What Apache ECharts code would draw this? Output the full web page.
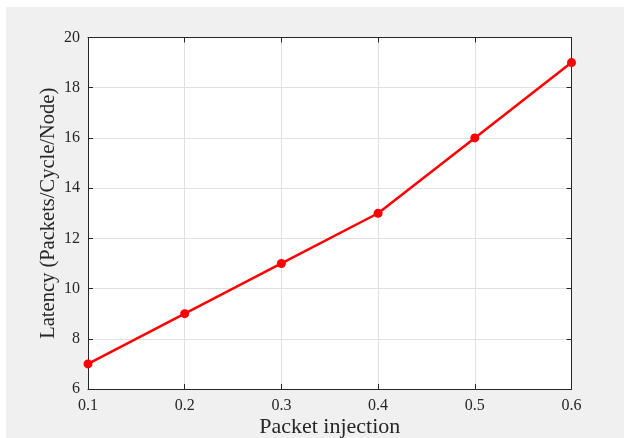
<!DOCTYPE html>
<html><head><meta charset="utf-8">
<script src="https://cdn.jsdelivr.net/npm/echarts@6/dist/echarts.min.js"></script>
<style>html,body{margin:0;padding:0;background:#fff}#c{width:624px;height:438px}</style>
</head><body><div id="c"></div>
<script>
var xValues = [0.1, 0.2, 0.3, 0.4, 0.5, 0.6];
var latency = [7, 9, 11, 13, 16, 19];
var xTicks = [0.1, 0.2, 0.3, 0.4, 0.5, 0.6];
var yTicks = [6, 8, 10, 12, 14, 16, 18, 20];

var font = 'Liberation Serif, Times New Roman, serif';
var chart = echarts.init(document.getElementById('c'));
var baseX = {
  type: 'value', min: 0.1, max: 0.6, interval: 0.1,
  axisLine: {show: true, onZero: false, lineStyle: {color: '#262626', width: 1}},
  axisTick: {show: true, inside: true, length: 5, lineStyle: {color: '#262626'}},
  splitLine: {show: false}
};
var baseY = {
  type: 'value', min: 6, max: 20, interval: 2,
  axisLine: {show: true, onZero: false, lineStyle: {color: '#262626', width: 1}},
  axisTick: {show: true, inside: true, length: 5, lineStyle: {color: '#262626'}},
  splitLine: {show: false}
};
chart.setOption({
  backgroundColor: '#ffffff',
  animation: false,
  graphic: [{type: 'rect', z: -100, silent: true, shape: {x: 6, y: 7, width: 618, height: 431}, style: {fill: '#f0f0f0'}}],
  grid: {left: 88, top: 37.5, width: 483.5, height: 351.5, show: true, backgroundColor: '#ffffff', borderWidth: 0,
         containLabel: false, outerBoundsMode: 'none'},
  xAxis: [
    Object.assign({}, baseX, {
      position: 'bottom',
      name: 'Packet injection', nameLocation: 'middle', nameGap: 27, nameMoveOverlap: false,
      nameTextStyle: {fontFamily: font, fontSize: 22, color: '#262626'},
      axisLabel: {fontFamily: font, fontSize: 16, color: '#262626', margin: 9,
        formatter: function (v) { return xTicks.indexOf(Math.round(v*10)/10) >= 0 ? v.toFixed(1) : ''; }},
      splitLine: {show: true, lineStyle: {color: '#e0e0e0', width: 1}}
    }),
    Object.assign({}, baseX, {position: 'top', axisLabel: {show: false}})
  ],
  yAxis: [
    Object.assign({}, baseY, {
      position: 'left',
      name: 'Latency (Packets/Cycle/Node)', nameLocation: 'middle', nameGap: 29, nameMoveOverlap: false,
      nameTextStyle: {fontFamily: font, fontSize: 20.5, color: '#262626'},
      axisLabel: {fontFamily: font, fontSize: 16, color: '#262626', margin: 8,
        formatter: function (v) { return yTicks.indexOf(v) >= 0 ? String(v) : ''; }},
      splitLine: {show: true, lineStyle: {color: '#e0e0e0', width: 1}}
    }),
    Object.assign({}, baseY, {position: 'right', axisLabel: {show: false}})
  ],
  series: [{
    type: 'line',
    data: xValues.map(function (x, i) { return [x, latency[i]]; }),
    lineStyle: {color: '#ff0000', width: 2.5},
    itemStyle: {color: '#ff0000'},
    symbol: 'circle', symbolSize: 9,
    clip: false
  }]
});
</script></body></html>
